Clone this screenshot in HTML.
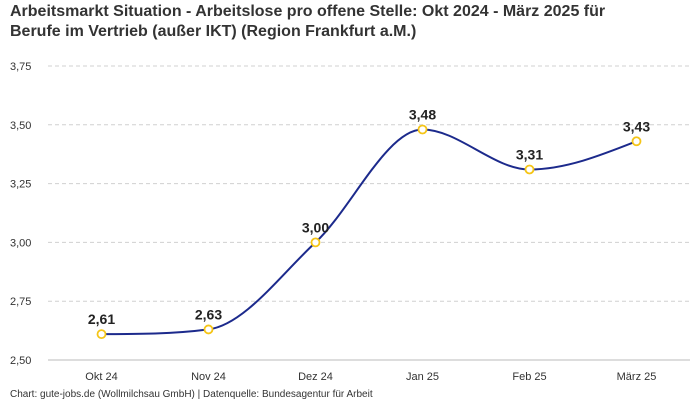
<!DOCTYPE html>
<html><head><meta charset="utf-8"><style>
body{margin:0;background:#fff;font-family:"Liberation Sans",sans-serif}
svg{display:block}
</style></head><body>
<svg id="chart" width="700" height="400">
<text x="10" y="16" font-size="16" font-weight="bold" fill="#333">Arbeitsmarkt Situation - Arbeitslose pro offene Stelle: Okt 2024 - März 2025 für</text>
<text x="10" y="36" font-size="16" font-weight="bold" fill="#333">Berufe im Vertrieb (außer IKT) (Region Frankfurt a.M.)</text>
<g id="grid"></g><g id="xax"></g><g id="series"></g>
<text x="10" y="397" font-size="10" fill="#333">Chart: gute-jobs.de (Wollmilchsau GmbH) | Datenquelle: Bundesagentur für Arbeit</text>
</svg>
<script>
const categories=["Okt 24","Nov 24","Dez 24","Jan 25","Feb 25","März 25"];
const values=[2.61,2.63,3.00,3.48,3.31,3.43];
const yTicks=[2.5,2.75,3.0,3.25,3.5,3.75];
const NS="http://www.w3.org/2000/svg";
const x0=48,x1=690,yMin=2.5,yMax=3.75,py0=360,py1=66;
const bw=(x1-x0)/categories.length;
const X=i=>x0+bw*(i+0.5);
const Y=v=>py0-(v-yMin)/(yMax-yMin)*(py0-py1);
function mk(t,a,p){const e=document.createElementNS(NS,t);for(const k in a)e.setAttribute(k,a[k]);p.appendChild(e);return e;}
const fmt=v=>v.toFixed(2).replace('.',',');
const grid=document.getElementById('grid');
yTicks.forEach(t=>{
 const l=mk('line',{x1:x0,x2:x1,y1:Y(t),y2:Y(t),stroke:t===2.5?'#bbb':'#d0d0d0','stroke-dasharray':t===2.5?'':'4,3'},grid);
 
 
 const tx=mk('text',{x:10,y:Y(t)+4,'font-size':11,fill:'#333'},grid);tx.textContent=fmt(t);
 
 
});
const xax=document.getElementById('xax');
categories.forEach((c,i)=>{
 const tx=mk('text',{x:X(i),y:380,'font-size':11,fill:'#333','text-anchor':'middle'},xax);tx.textContent=c;
 
 
});
const pts=values.map((v,i)=>[X(i),Y(v)]);
const n=pts.length,d=[],m=[];
for(let i=0;i<n-1;i++)d.push((pts[i+1][1]-pts[i][1])/(pts[i+1][0]-pts[i][0]));
for(let i=0;i<n;i++)m.push(0);
for(let i=1;i<n-1;i++){if(d[i-1]*d[i]>0){m[i]=(d[i-1]+d[i])/2;const s=Math.min(Math.abs(d[i-1]),Math.abs(d[i]));if(Math.abs(m[i])>3*s)m[i]=Math.sign(m[i])*3*s;}}
m[0]=(3*d[0]-m[1])/2;m[n-1]=(3*d[n-2]-m[n-2])/2;
let p=`M${pts[0][0]},${pts[0][1]}`;
for(let i=0;i<n-1;i++){const h=(pts[i+1][0]-pts[i][0])/3;
 p+=`C${pts[i][0]+h},${pts[i][1]+m[i]*h} ${pts[i+1][0]-h},${pts[i+1][1]-m[i+1]*h} ${pts[i+1][0]},${pts[i+1][1]}`;}
const s=document.getElementById('series');
const path=mk('path',{d:p,fill:'none',stroke:'#1c2a8c','stroke-width':2},s);


values.forEach((v,i)=>{
 const c=mk('circle',{cx:X(i),cy:Y(v),r:4,fill:'#fff',stroke:'#f5c518','stroke-width':1.8},s);
 
 
 const t=mk('text',{x:X(i),y:Y(v)-10,'font-size':14,'font-weight':'bold',fill:'#222','text-anchor':'middle'},s);t.textContent=fmt(v);
 
 
});
</script>
</body></html>
